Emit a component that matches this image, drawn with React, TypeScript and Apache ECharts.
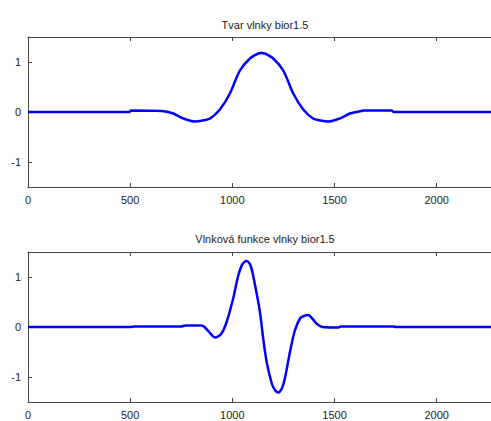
import React, { useEffect, useRef } from "react";
import * as echarts from "echarts";

const titleTop = "Tvar vlnky bior1.5";
const titleBottom = "Vlnková funkce vlnky bior1.5";

const xTicks = [0, 500, 1000, 1500, 2000];
const yTicks = [-1, 0, 1];

const topX = [0, 495, 505, 654, 711, 760, 817, 855, 891, 939, 988, 1037, 1086, 1127, 1143, 1159, 1200, 1249, 1298, 1347, 1395, 1432, 1469, 1526, 1575, 1632, 1642, 1780, 1790, 2300];
const topY = [0, 0, 0.03, 0.02, -0.03, -0.13, -0.19, -0.17, -0.13, 0.05, 0.37, 0.83, 1.07, 1.17, 1.18, 1.17, 1.07, 0.83, 0.37, 0.05, -0.13, -0.17, -0.19, -0.13, -0.03, 0.02, 0.03, 0.03, 0, 0];

const botX = [0, 500, 520, 750, 770, 850, 880, 915, 945, 972, 1004, 1029, 1050, 1070, 1090, 1110, 1135, 1151, 1168, 1193, 1210, 1225, 1243, 1257, 1282, 1306, 1331, 1350, 1371, 1395, 1412, 1440, 1520, 1530, 1790, 1800, 2300];
const botY = [0, 0, 0.01, 0.01, 0.03, 0.03, -0.07, -0.21, -0.14, 0.1, 0.57, 1.03, 1.26, 1.32, 1.22, 0.86, 0.3, -0.23, -0.7, -1.13, -1.27, -1.31, -1.22, -1.03, -0.5, -0.07, 0.17, 0.22, 0.24, 0.15, 0.07, 0, -0.01, 0.01, 0.01, 0, 0];

const AXIS = "#444444";
const TEXT = "#222222";
const FONT = "Liberation Sans";

export default function App() {
  const ref = useRef<HTMLDivElement>(null);
  useEffect(() => {
    if (!ref.current) return;
    const chart = echarts.init(ref.current, null, { renderer: "svg" });
    const gridBase = { left: 28, width: 470, height: 150, containLabel: false, outerBoundsMode: "none" };
    const grids = [
      { ...gridBase, top: 37 },
      { ...gridBase, top: 252 },
    ];
    const xAxes: any[] = [];
    const yAxes: any[] = [];
    grids.forEach((_, i) => {
      ["bottom", "top"].forEach((pos) => {
        xAxes.push({
          type: "value",
          gridIndex: i,
          min: 0,
          max: 2300,
          position: pos,
          axisLine: { show: true, onZero: false, lineStyle: { color: AXIS, width: 1 } },
          axisTick: { show: true, inside: true, length: 4, customValues: xTicks, lineStyle: { color: AXIS } },
          axisLabel: pos === "bottom"
            ? { customValues: xTicks, margin: 7, color: TEXT, fontSize: 11, fontFamily: FONT, formatter: (v: number) => String(v) }
            : { show: false, customValues: xTicks },
          splitLine: { show: false },
        });
      });
      yAxes.push({
        type: "value",
        gridIndex: i,
        min: -1.5,
        max: 1.5,
        axisLine: { show: true, onZero: false, lineStyle: { color: AXIS, width: 1 } },
        axisTick: { show: true, inside: true, length: 4, customValues: yTicks, lineStyle: { color: AXIS } },
        axisLabel: { customValues: yTicks, margin: 7, color: TEXT, fontSize: 11, fontFamily: FONT, formatter: (v: number) => String(v) },
        splitLine: { show: false },
      });
    });
    const mk = (xs: number[], ys: number[]) => xs.map((x, i) => [x, ys[i]]);
    chart.setOption({
      animation: false,
      backgroundColor: "#ffffff",
      title: [
        { text: titleTop, left: 260, top: 14, textAlign: "center", textStyle: { fontSize: 11, fontWeight: "normal", color: TEXT, fontFamily: FONT } },
        { text: titleBottom, left: 260, top: 228, textAlign: "center", textStyle: { fontSize: 11, fontWeight: "normal", color: TEXT, fontFamily: FONT } },
      ],
      grid: grids,
      xAxis: xAxes,
      yAxis: yAxes,
      series: [
        { type: "line", xAxisIndex: 0, yAxisIndex: 0, data: mk(topX, topY), showSymbol: false, smooth: 0.3, lineStyle: { color: "#0000ff", width: 2.5 } },
        { type: "line", xAxisIndex: 2, yAxisIndex: 1, data: mk(botX, botY), showSymbol: false, smooth: 0.3, lineStyle: { color: "#0000ff", width: 2.5 } },
      ],
    });
    return () => chart.dispose();
  }, []);
  return <div ref={ref} style={{ position: "fixed", left: 0, top: 0, width: 491, height: 421 }} />;
}
